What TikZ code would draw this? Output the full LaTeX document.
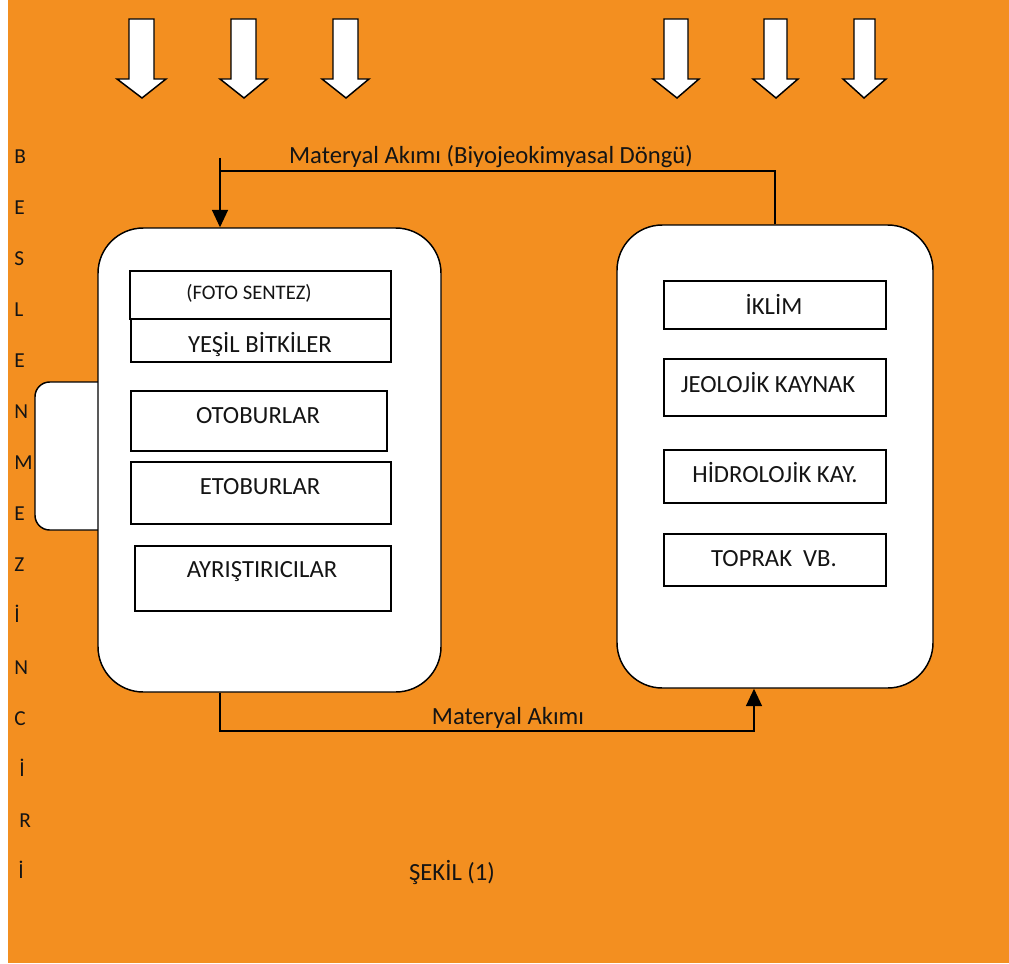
\documentclass[tikz,border=0pt]{standalone}
\usepackage{fontspec}
\setmainfont{Carlito}
\usetikzlibrary{arrows.meta,fit}
\definecolor{bgorange}{RGB}{243,143,32}
\definecolor{ink}{RGB}{20,20,20}
\newcommand\blockdown[5]{\draw[blockarrow] (#1,19) -- (#2,19) -- (#2,79) -- (#4,79) -- (#5,98) -- (#3,79) -- (#1,79) -- cycle;}
\begin{document}
\begin{tikzpicture}[x=0.75pt,y=-0.75pt,
  box/.style={draw=black,line width=1.2pt,fill=white,inner sep=0pt,rectangle},
  panel/.style={draw=black,line width=1.1pt,fill=white,inner sep=0pt,rectangle,rounded corners=34pt},
  lbl/.style={anchor=base,inner sep=0pt,text=ink,font=\fontsize{18.5}{20}\selectfont},
  small/.style={anchor=base,inner sep=0pt,text=ink,font=\fontsize{15.5}{17}\selectfont},
  side/.style={anchor=base west,inner sep=0pt,text=ink,font=\fontsize{16}{18}\selectfont},
  flow/.style={draw=black,line width=1pt},
  tip/.style={-{Triangle[width=12pt,length=13pt]}},
  blockarrow/.style={draw=black,line width=1.1pt,fill=white,line join=miter}]
\useasboundingbox (0,0) rectangle (1009,963);
\fill[bgorange] (8,0) rectangle (1009,963);

% block arrows
\blockdown{129}{154}{117}{166}{142}
\blockdown{231}{256}{220}{267}{244}
\blockdown{333}{358}{322}{369}{346}
\blockdown{664}{688}{653}{699}{677}
\blockdown{764}{787}{753}{798}{776}
\blockdown{854}{875}{843}{886}{864}

% side letters
\foreach \l/\xx [count=\i from 0] in {B/14,E/14,S/14,L/14,E/14,N/14,M/14,E/14,Z/14,İ/14,N/14,C/14,İ/19,R/19,İ/18}
  \node[side] (s\i) at (\xx,163+51.1*\i) {\l};

% panels
\node[panel,rounded corners=11pt,fit={(35,382) (130,530)}] (tab) {};
\node[panel,fit={(98,228) (441,692)}] (left) {};
\node[panel,fit={(617,225) (933,688)}] (right) {};

% inner boxes left
\node[box,fit={(130,271) (391,319)}] (foto) {};
\node[box,fit={(131,319) (391,362)}] (yesil) {};
\node[box,fit={(131,391) (387,451)}] (oto) {};
\node[box,fit={(131,462) (391,524)}] (eto) {};
\node[box,fit={(135,546) (391,611)}] (ayr) {};
% inner boxes right
\node[box,fit={(664,281) (886,329)}] (iklim) {};
\node[box,fit={(664,359) (886,416)}] (jeo) {};
\node[box,fit={(664,450) (886,503)}] (hid) {};
\node[box,fit={(664,534) (886,586)}] (topr) {};

% texts
\node[small] (tfoto) at (249,299) {(FOTO SENTEZ)};
\node[lbl] (tyesil) at (260,352) {YEŞİL BİTKİLER};
\node[lbl] (toto) at (258,423) {OTOBURLAR};
\node[lbl] (teto) at (260,494) {ETOBURLAR};
\node[lbl] (tayr) at (262,577) {AYRIŞTIRICILAR};
\node[lbl] (tiklim) at (774,314) {İKLİM};
\node[lbl] (tjeo) at (768,392) {JEOLOJİK KAYNAK};
\node[lbl] (thid) at (775,482) {HİDROLOJİK KAY.};
\node[lbl] (ttopr) at (774,566) {TOPRAK\ \ VB.};

% connectors
\coordinate (ttop) at (220,158);
\coordinate (tjoin) at (220,171);
\draw[flow] (ttop) -- (tjoin);
\draw[flow,tip] (right.north) |- (tjoin) -- (tjoin |- left.north);
\coordinate (bjoin) at (220,731);
\coordinate (bend) at (754,731);
\draw[flow,tip] (bjoin |- left.south) -- (bjoin) -- (bend) -- (bend |- right.south);

\node[lbl] (mtop) at (491,163) {Materyal Akımı (Biyojeokimyasal Döngü)};
\node[lbl] (mbot) at (508,724) {Materyal Akımı};
\node[lbl] (sekil) at (452,880) {ŞEKİL (1)};
\end{tikzpicture}
\end{document}
